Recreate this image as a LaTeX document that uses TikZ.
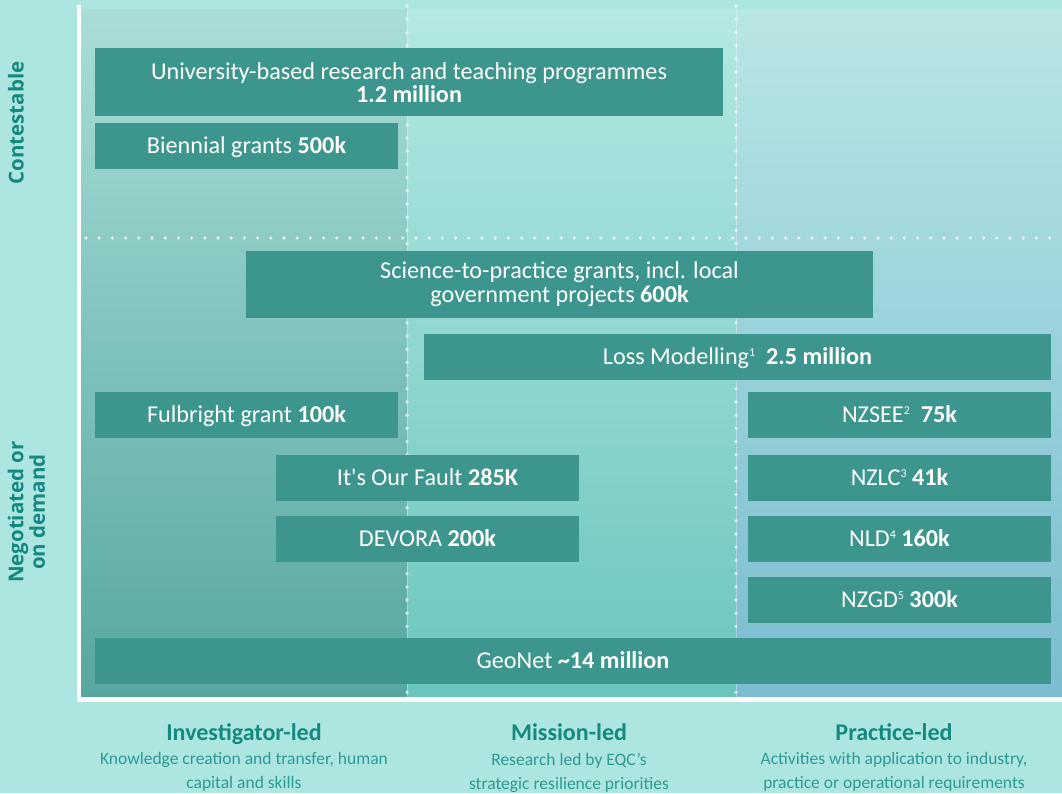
\documentclass[tikz,border=0pt]{standalone}
\usepackage{fontspec}
\setmainfont{Carlito}
\newfontfamily\sidefont{Open Sans}
\definecolor{bgteal}{HTML}{ADE6E0}
\definecolor{boxteal}{HTML}{3D968E}
\definecolor{labelteal}{HTML}{14897F}
\definecolor{noteteal}{HTML}{2C9B90}
\definecolor{colAtop}{HTML}{A9DDD8}
\definecolor{colAbot}{HTML}{56A79F}
\definecolor{colBtop}{HTML}{B4E8E4}
\definecolor{colBbot}{HTML}{6BC6BC}
\definecolor{colCtop}{HTML}{B8E6E4}
\definecolor{colCbot}{HTML}{7BBCD0}
\newcommand{\supnote}[1]{\raisebox{8.2pt}{\fontsize{12}{12}\selectfont #1}}
\begin{document}
\begin{tikzpicture}[x=1pt, y=-1pt, line join=round,
		boxbase/.style={fill=boxteal, text=white, inner sep=0pt, font=\fontsize{24.2}{23}\selectfont},
		twobox/.style={boxbase, align=center},
		grantbox/.style={boxbase, minimum width=303pt, minimum height=46pt, text height=17pt, text depth=2.4pt},
		sidelabel/.style={rotate=90, text=labelteal, align=center, inner sep=0pt, font=\sidefont\bfseries\fontsize{20.5}{20}\selectfont},
		colhead/.style={text=labelteal, anchor=base, inner sep=0pt, font=\bfseries\fontsize{24}{24}\selectfont},
		colnote/.style={text=noteteal, align=center, anchor=north, inner sep=0pt, font=\fontsize{17.5}{24}\selectfont},
		divline/.style={white, opacity=.7, line width=3.6pt, line cap=round, dash pattern=on 0pt off 13.2pt}]
		\useasboundingbox (0,0) rectangle (1062,793);
		\fill[bgteal] (0,0) rectangle (1062,793);
		% three columns
		\shade[top color=colAtop, bottom color=colAbot] (81,9) rectangle (407,697);
		\shade[top color=colBtop, bottom color=colBbot] (407,9) rectangle (736,697);
		\shade[top color=colCtop, bottom color=colCbot] (736,9) rectangle (1062,697);
		\foreach \x in {407,736} {
			\draw[white, opacity=.3, line width=1pt] (\x,9) -- (\x,697);
			\draw[divline] (\x,6) -- (\x,697);
		}
		\draw[divline] (86,238) -- (1062,238);
		\draw[white, line width=4.5pt] (79,5) |- (1062,699.5);
		% side labels
		\node[sidelabel] (contest) at (16,123) {Contestable};
		\node[sidelabel] (negot) at (26.5,512) {Negotiated or\\on demand};
		% funding boxes
		\node[twobox, minimum width=628pt, minimum height=68pt] (univ) at (409,82.2) {University-based research and teaching programmes\\\textbf{1.2 million}};
		\node[grantbox] (biennial) at (246.5,146) {Biennial grants \textbf{500k}};
		\node[twobox, minimum width=627pt, minimum height=67pt, font=\fontsize{24.2}{24.7}\selectfont] (scipract) at (559.5,284.2) {Science-to-practice grants, incl. local\\government projects \textbf{600k}};
		\node[grantbox, minimum width=627pt] (lossmod) at (737.5,357) {Loss Modelling\supnote{1}\ \ \textbf{2.5 million}};
		\node[grantbox] (fulbright) at (246.5,415) {Fulbright grant \textbf{100k}};
		\node[grantbox] (ourfault) at (427.5,478) {It\textquotesingle s Our Fault \textbf{285K}};
		\node[grantbox] (devora) at (427.5,539) {DEVORA \textbf{200k}};
		\foreach \name/\y/\txt in {nzsee/415/{NZSEE\supnote{2}\ \ \textbf{75k}},
			nzlc/478/{NZLC\supnote{3} \textbf{41k}},
			nld/539/{NLD\supnote{4} \textbf{160k}},
			nzgd/600/{NZGD\supnote{5} \textbf{300k}}}
		\node[grantbox] (\name) at (899.5,\y) {\txt};
		\node[grantbox, minimum width=956pt] (geonet) at (573,661) {GeoNet \textbf{\textasciitilde 14 million}};
		% column heads
		\node[colhead] (invest) at (244,740) {Investigator-led};
		\node[colhead] (mission) at (569,740) {Mission-led};
		\node[colhead] (practice) at (894,740) {Practice-led};
		\node[colnote] (investnote) at (244,752.5) {Knowledge creation and transfer, human\\capital and skills};
		\node[colnote] (missionnote) at (569,752.5) {Research led by EQC's\\strategic resilience priorities};
		\node[colnote] (practicenote) at (894,752.5) {Activities with application to industry,\\practice or operational requirements};
\end{tikzpicture}
\end{document}
